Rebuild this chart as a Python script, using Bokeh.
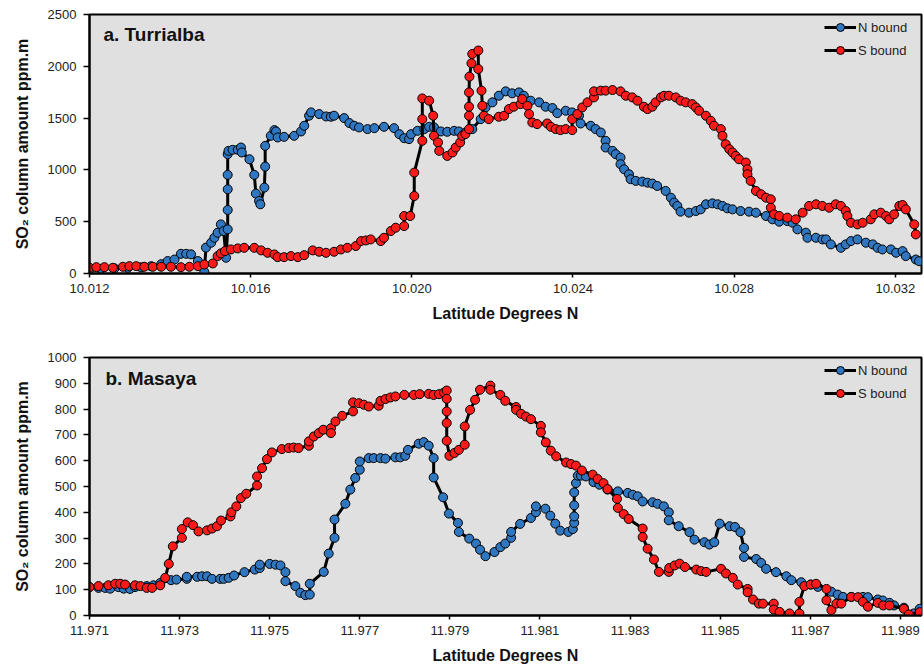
from bokeh.plotting import figure
from bokeh.layouts import column
from bokeh.models import FixedTicker, Label, Legend, LegendItem, Range1d, NumeralTickFormatter
from bokeh.embed import file_html
from bokeh.resources import INLINE

# ---------------- data: a. Turrialba ----------------
turr_n_lat = [10.01200, 10.01229, 10.01262, 10.01295, 10.01328, 10.01353, 10.01378, 10.01394, 10.01411, 10.01427,
              10.01440, 10.01452, 10.01469, 10.01485, 10.01489, 10.01502, 10.01510, 10.01518, 10.01526, 10.01533,
              10.01539, 10.01543, 10.01543, 10.01543, 10.01543, 10.01543, 10.01545, 10.01555, 10.01568, 10.01576,
              10.01578, 10.01597, 10.01609, 10.01613, 10.01621, 10.01624, 10.01634, 10.01636, 10.01636, 10.01650,
              10.01659, 10.01663, 10.01667, 10.01683, 10.01708, 10.01725, 10.01733, 10.01745, 10.01750, 10.01770,
              10.01787, 10.01799, 10.01807, 10.01832, 10.01845, 10.01857, 10.01869, 10.01890, 10.01907, 10.01931,
              10.01956, 10.01969, 10.01981, 10.01993, 10.01998, 10.02014, 10.02031, 10.02043, 10.02055, 10.02072,
              10.02088, 10.02105, 10.02117, 10.02133, 10.02150, 10.02171, 10.02183, 10.02200, 10.02216, 10.02233,
              10.02249, 10.02266, 10.02278, 10.02295, 10.02316, 10.02332, 10.02349, 10.02361, 10.02382, 10.02398,
              10.02415, 10.02419, 10.02444, 10.02456, 10.02469, 10.02481, 10.02481, 10.02498, 10.02506, 10.02518,
              10.02518, 10.02527, 10.02539, 10.02543, 10.02556, 10.02572, 10.02585, 10.02597, 10.02609, 10.02630,
              10.02643, 10.02651, 10.02659, 10.02667, 10.02688, 10.02705, 10.02717, 10.02730, 10.02746, 10.02759,
              10.02771, 10.02783, 10.02796, 10.02816, 10.02837, 10.02854, 10.02879, 10.02895, 10.02912, 10.02932,
              10.02945, 10.02957, 10.02978, 10.02982, 10.03003, 10.03019, 10.03028, 10.03040, 10.03065, 10.03077,
              10.03090, 10.03106, 10.03127, 10.03144, 10.03156, 10.03168, 10.03189, 10.03202, 10.03218, 10.03226,
              10.03251, 10.03259]
turr_n_val = [40, 45, 50, 55, 60, 70, 90, 120, 135, 190,
              190, 185, 120, 15, 250, 297, 345, 394, 474, 410,
              152, 426, 613, 813, 952, 1152, 1184, 1194, 1194, 1216,
              1168, 1103, 952, 771, 700, 668, 829, 1032, 1232, 1329,
              1384, 1371, 1313, 1319, 1329, 1371, 1426, 1523, 1555, 1539,
              1516, 1513, 1523, 1500, 1452, 1426, 1410, 1394, 1403, 1416,
              1403, 1345, 1306, 1297, 1345, 1377, 1394, 1416, 1410, 1371,
              1368, 1377, 1371, 1361, 1394, 1490, 1603, 1652, 1716, 1758,
              1739, 1748, 1716, 1668, 1652, 1610, 1597, 1548, 1571, 1555,
              1523, 1448, 1426, 1394, 1361, 1281, 1216, 1184, 1152, 1119,
              1055, 1006, 958, 910, 894, 887, 877, 868, 845, 797,
              732, 684, 652, 597, 587, 603, 619, 668, 677, 668,
              652, 629, 619, 603, 597, 587, 555, 523, 500, 506,
              490, 426, 394, 345, 345, 329, 329, 281, 248, 281,
              313, 329, 297, 281, 248, 232, 232, 200, 216, 168,
              135, 119]

turr_s_lat = [10.01200, 10.01217, 10.01237, 10.01258, 10.01283, 10.01299, 10.01316, 10.01336, 10.01357, 10.01378,
              10.01402, 10.01427, 10.01448, 10.01469, 10.01485, 10.01506, 10.01518, 10.01526, 10.01536, 10.01551,
              10.01568, 10.01584, 10.01609, 10.01626, 10.01642, 10.01659, 10.01667, 10.01683, 10.01700, 10.01717,
              10.01733, 10.01754, 10.01770, 10.01787, 10.01807, 10.01824, 10.01840, 10.01861, 10.01874, 10.01886,
              10.01898, 10.01923, 10.01931, 10.01948, 10.01960, 10.01981, 10.01981, 10.01996, 10.02006, 10.02006,
              10.02026, 10.02026, 10.02026, 10.02043, 10.02053, 10.02055, 10.02065, 10.02068, 10.02088, 10.02101,
              10.02109, 10.02120, 10.02125, 10.02133, 10.02142, 10.02142, 10.02142, 10.02142, 10.02143, 10.02148,
              10.02150, 10.02165, 10.02165, 10.02173, 10.02175, 10.02179, 10.02191, 10.02216, 10.02229, 10.02241,
              10.02253, 10.02270, 10.02274, 10.02287, 10.02291, 10.02299, 10.02311, 10.02336, 10.02345, 10.02357,
              10.02369, 10.02382, 10.02398, 10.02398, 10.02411, 10.02423, 10.02436, 10.02452, 10.02452, 10.02469,
              10.02481, 10.02498, 10.02518, 10.02531, 10.02547, 10.02560, 10.02576, 10.02585, 10.02597, 10.02605,
              10.02618, 10.02626, 10.02638, 10.02655, 10.02667, 10.02680, 10.02696, 10.02705, 10.02713, 10.02730,
              10.02742, 10.02750, 10.02767, 10.02771, 10.02779, 10.02788, 10.02796, 10.02804, 10.02812, 10.02829,
              10.02833, 10.02833, 10.02841, 10.02854, 10.02867, 10.02879, 10.02891, 10.02891, 10.02899, 10.02912,
              10.02932, 10.02953, 10.02970, 10.02986, 10.03003, 10.03019, 10.03036, 10.03052, 10.03065, 10.03077,
              10.03081, 10.03090, 10.03106, 10.03119, 10.03139, 10.03148, 10.03164, 10.03177, 10.03185, 10.03197,
              10.03210, 10.03218, 10.03226, 10.03247, 10.03251]
turr_s_val = [55, 61, 61, 55, 65, 71, 71, 65, 65, 65,
              65, 61, 65, 71, 87, 97, 168, 194, 216, 232,
              242, 248, 248, 223, 200, 184, 158, 158, 168, 158,
              177, 223, 210, 200, 210, 232, 248, 265, 313, 319,
              329, 313, 345, 410, 442, 458, 555, 555, 748, 974,
              1281, 1490, 1690, 1668, 1523, 1329, 1265, 1184, 1135, 1168,
              1216, 1265, 1329, 1345, 1394, 1523, 1610, 1748, 1900, 2029,
              2119, 2152, 1974, 1765, 1619, 1523, 1490, 1513, 1523, 1587,
              1610, 1635, 1684, 1619, 1539, 1458, 1442, 1448, 1416, 1394,
              1384, 1394, 1384, 1490, 1539, 1603, 1652, 1700, 1758, 1765,
              1765, 1771, 1758, 1716, 1700, 1668, 1610, 1587, 1610, 1652,
              1700, 1716, 1716, 1700, 1668, 1652, 1635, 1603, 1571, 1523,
              1474, 1426, 1394, 1329, 1248, 1200, 1168, 1135, 1103, 1071,
              1006, 958, 894, 797, 765, 732, 716, 635, 571, 555,
              539, 523, 587, 652, 668, 652, 635, 668, 652, 603,
              555, 490, 474, 490, 523, 571, 587, 555, 523, 571,
              652, 661, 619, 474, 377]

turr_x_ticks = [10.012, 10.016, 10.020, 10.024, 10.028, 10.032]
turr_y_ticks = [0, 500, 1000, 1500, 2000, 2500]

# ---------------- data: b. Masaya ----------------
mas_n_lat = [11.97100, 11.97120, 11.97135, 11.97146, 11.97164, 11.97176, 11.97190, 11.97201, 11.97227, 11.97242,
             11.97257, 11.97281, 11.97293, 11.97316, 11.97316, 11.97339, 11.97350, 11.97361, 11.97372, 11.97390,
             11.97398, 11.97409, 11.97421, 11.97444, 11.97467, 11.97478, 11.97478, 11.97500, 11.97513, 11.97524,
             11.97535, 11.97535, 11.97557, 11.97568, 11.97579, 11.97589, 11.97589, 11.97620, 11.97631, 11.97644,
             11.97644, 11.97668, 11.97679, 11.97690, 11.97700, 11.97700, 11.97720, 11.97731, 11.97746, 11.97757,
             11.97779, 11.97790, 11.97801, 11.97807, 11.97831, 11.97842, 11.97853, 11.97864, 11.97864, 11.97885,
             11.97898, 11.97918, 11.97920, 11.97943, 11.97958, 11.97967, 11.97979, 11.97999, 11.98012, 11.98023,
             11.98036, 11.98036, 11.98056, 11.98080, 11.98091, 11.98091, 11.98112, 11.98123, 11.98134, 11.98145,
             11.98163, 11.98173, 11.98176, 11.98176, 11.98176, 11.98176, 11.98180, 11.98184, 11.98191, 11.98202,
             11.98219, 11.98232, 11.98250, 11.98273, 11.98295, 11.98306, 11.98317, 11.98328, 11.98350, 11.98361,
             11.98375, 11.98386, 11.98386, 11.98408, 11.98432, 11.98443, 11.98465, 11.98476, 11.98487, 11.98499,
             11.98521, 11.98533, 11.98545, 11.98553, 11.98553, 11.98580, 11.98591, 11.98602, 11.98624, 11.98647,
             11.98658, 11.98680, 11.98701, 11.98717, 11.98747, 11.98761, 11.98773, 11.98791, 11.98817, 11.98828,
             11.98850, 11.98861, 11.98876, 11.98886, 11.98908, 11.98919, 11.98930, 11.98943]
mas_n_val = [110, 107, 107, 104, 110, 104, 103, 110, 114, 117,
             126, 137, 139, 142, 150, 150, 152, 152, 142, 142,
             142, 146, 155, 168, 178, 184, 197, 200, 197, 194,
             168, 133, 114, 88, 79, 81, 123, 169, 240, 301,
             372, 433, 488, 533, 565, 597, 610, 610, 610, 608,
             613, 613, 619, 642, 666, 672, 658, 610, 535, 458,
             395, 359, 324, 298, 279, 255, 230, 246, 265, 279,
             301, 324, 355, 378, 400, 423, 414, 387, 356, 329,
             324, 335, 359, 384, 427, 477, 513, 542, 542, 539,
             517, 507, 488, 481, 475, 468, 462, 442, 439, 433,
             423, 400, 369, 346, 323, 294, 284, 275, 284, 356,
             346, 343, 323, 262, 227, 219, 204, 181, 168, 152,
             137, 129, 120, 111, 92, 81, 72, 72, 72, 71,
             62, 58, 49, 39, 30, 3, 8, 26]

mas_s_lat = [11.97100, 11.97120, 11.97142, 11.97157, 11.97168, 11.97179, 11.97201, 11.97213, 11.97227, 11.97239,
             11.97257, 11.97268, 11.97276, 11.97285, 11.97305, 11.97305, 11.97318, 11.97330, 11.97342, 11.97361,
             11.97372, 11.97383, 11.97392, 11.97413, 11.97415, 11.97426, 11.97436, 11.97448, 11.97472, 11.97472,
             11.97483, 11.97494, 11.97505, 11.97527, 11.97542, 11.97553, 11.97564, 11.97587, 11.97587, 11.97598,
             11.97609, 11.97619, 11.97636, 11.97636, 11.97646, 11.97661, 11.97685, 11.97685, 11.97698, 11.97709,
             11.97720, 11.97742, 11.97746, 11.97757, 11.97768, 11.97779, 11.97799, 11.97820, 11.97833, 11.97853,
             11.97864, 11.97876, 11.97887, 11.97893, 11.97893, 11.97893, 11.97893, 11.97893, 11.97899, 11.97910,
             11.97920, 11.97933, 11.97933, 11.97945, 11.97956, 11.97967, 11.97990, 11.97990, 11.98012, 11.98023,
             11.98047, 11.98047, 11.98058, 11.98069, 11.98080, 11.98102, 11.98102, 11.98113, 11.98124, 11.98136,
             11.98158, 11.98169, 11.98180, 11.98193, 11.98217, 11.98228, 11.98241, 11.98250, 11.98271, 11.98273,
             11.98286, 11.98297, 11.98328, 11.98328, 11.98339, 11.98353, 11.98364, 11.98386, 11.98387, 11.98399,
             11.98410, 11.98422, 11.98447, 11.98458, 11.98469, 11.98502, 11.98513, 11.98528, 11.98539, 11.98561,
             11.98561, 11.98573, 11.98586, 11.98595, 11.98619, 11.98619, 11.98632, 11.98654, 11.98676, 11.98676,
             11.98687, 11.98701, 11.98713, 11.98736, 11.98736, 11.98747, 11.98758, 11.98769, 11.98791, 11.98806,
             11.98817, 11.98828, 11.98850, 11.98862, 11.98876, 11.98908, 11.98919, 11.98943]
mas_s_val = [110, 114, 117, 123, 123, 120, 117, 114, 107, 107,
             117, 146, 200, 268, 301, 335, 361, 350, 326, 330,
             337, 346, 368, 384, 400, 423, 455, 472, 504, 539,
             571, 606, 632, 645, 649, 651, 649, 658, 675, 694,
             707, 720, 726, 707, 752, 774, 791, 826, 823, 817,
             810, 813, 832, 839, 845, 849, 855, 855, 858, 859,
             855, 858, 864, 872, 840, 791, 746, 677, 619, 630,
             642, 662, 733, 797, 836, 875, 891, 875, 855, 832,
             808, 797, 782, 771, 761, 735, 710, 671, 639, 617,
             593, 587, 581, 562, 546, 529, 513, 490, 452, 417,
             393, 374, 337, 304, 259, 217, 169, 169, 184, 194,
             201, 188, 178, 172, 169, 181, 163, 146, 120, 103,
             90, 62, 46, 46, 46, 23, 14, 8, 8, 53,
             114, 120, 123, 103, 59, 21, 46, 46, 72, 71,
             53, 34, 49, 39, 39, 26, 4, 13]

mas_x_ticks = [11.971, 11.973, 11.975, 11.977, 11.979, 11.981, 11.983, 11.985, 11.987, 11.989]
mas_y_ticks = [0, 100, 200, 300, 400, 500, 600, 700, 800, 900, 1000]

series_names = ["N bound", "S bound"]
series_colors = ["#2f77c0", "#ff1a1a"]
FONT = "Liberation Sans"


def panel(title, n_lat, n_val, s_lat, s_val, xr, yr, xt, yt, height, b_top, b_bottom, t_off):
    p = figure(width=924, height=height, x_range=Range1d(*xr), y_range=Range1d(*yr),
               output_backend="svg", toolbar_location=None,
               min_border_left=89, min_border_right=3,
               min_border_top=b_top, min_border_bottom=b_bottom)
    p.background_fill_color = "#e0e0e0"
    p.border_fill_color = "white"
    p.outline_line_color = "black"
    p.outline_line_width = 2
    p.grid.visible = False

    for ax in (p.xaxis[0], p.yaxis[0]):
        ax.axis_line_color = "black"
        ax.axis_line_width = 2
        ax.major_tick_line_color = "black"
        ax.major_tick_line_width = 1.5
        ax.major_tick_in = 0
        ax.minor_tick_line_color = None
        ax.major_label_text_font = FONT
        ax.major_label_text_font_size = "13px"
        ax.major_label_text_color = "#222222"
        ax.axis_label_text_font = FONT
        ax.axis_label_text_font_size = "16px"
        ax.axis_label_text_font_style = "bold"
        ax.axis_label_text_color = "#111111"

    p.xaxis.ticker = FixedTicker(ticks=xt)
    p.xaxis.formatter = NumeralTickFormatter(format="0.000")
    p.xaxis.major_tick_out = 4
    p.xaxis.major_label_standoff = 6
    p.xaxis.axis_label = "Latitude Degrees N"
    p.xaxis.axis_label_standoff = 9

    p.yaxis.ticker = FixedTicker(ticks=yt)
    p.yaxis.major_tick_out = 6
    p.yaxis.major_label_standoff = 7
    p.yaxis.axis_label = "SO\u2082 column amount ppm.m"
    p.yaxis.axis_label_standoff = 14

    items = []
    for lat, val, name, col in ((n_lat, n_val, series_names[0], series_colors[0]),
                                (s_lat, s_val, series_names[1], series_colors[1])):
        ln = p.line(lat, val, line_color="black", line_width=3)
        sc = p.scatter(lat, val, marker="circle", size=9, fill_color=col,
                       line_color="black", line_width=1)
        items.append(LegendItem(label=name, renderers=[ln, sc]))

    legend = Legend(items=items, location="top_right", margin=0, padding=3,
                    spacing=3, glyph_width=32, glyph_height=20, label_height=20,
                    label_standoff=2, label_width=60,
                    label_text_font=FONT, label_text_font_size="13px",
                    label_text_color="#222222",
                    background_fill_alpha=0, border_line_alpha=0)
    p.add_layout(legend)

    p.add_layout(Label(x=xr[0], y=yr[1], x_offset=t_off[0], y_offset=-t_off[1], text=title,
                       text_font=FONT, text_font_size="19px", text_font_style="bold",
                       text_baseline="middle", text_color="#111111"))
    return p


p1 = panel("a. Turrialba", turr_n_lat, turr_n_val, turr_s_lat, turr_s_val,
           (10.012, 10.03265), (0, 2500), turr_x_ticks, turr_y_ticks,
           height=330, b_top=14, b_bottom=57, t_off=(14, 20))
p2 = panel("b. Masaya", mas_n_lat, mas_n_val, mas_s_lat, mas_s_val,
           (11.971, 11.98947), (0, 1000), mas_x_ticks, mas_y_ticks,
           height=336, b_top=27, b_bottom=50, t_off=(16, 21))

layout = column(p1, p2, spacing=0)
open("out.html", "w").write(file_html(layout, INLINE))
